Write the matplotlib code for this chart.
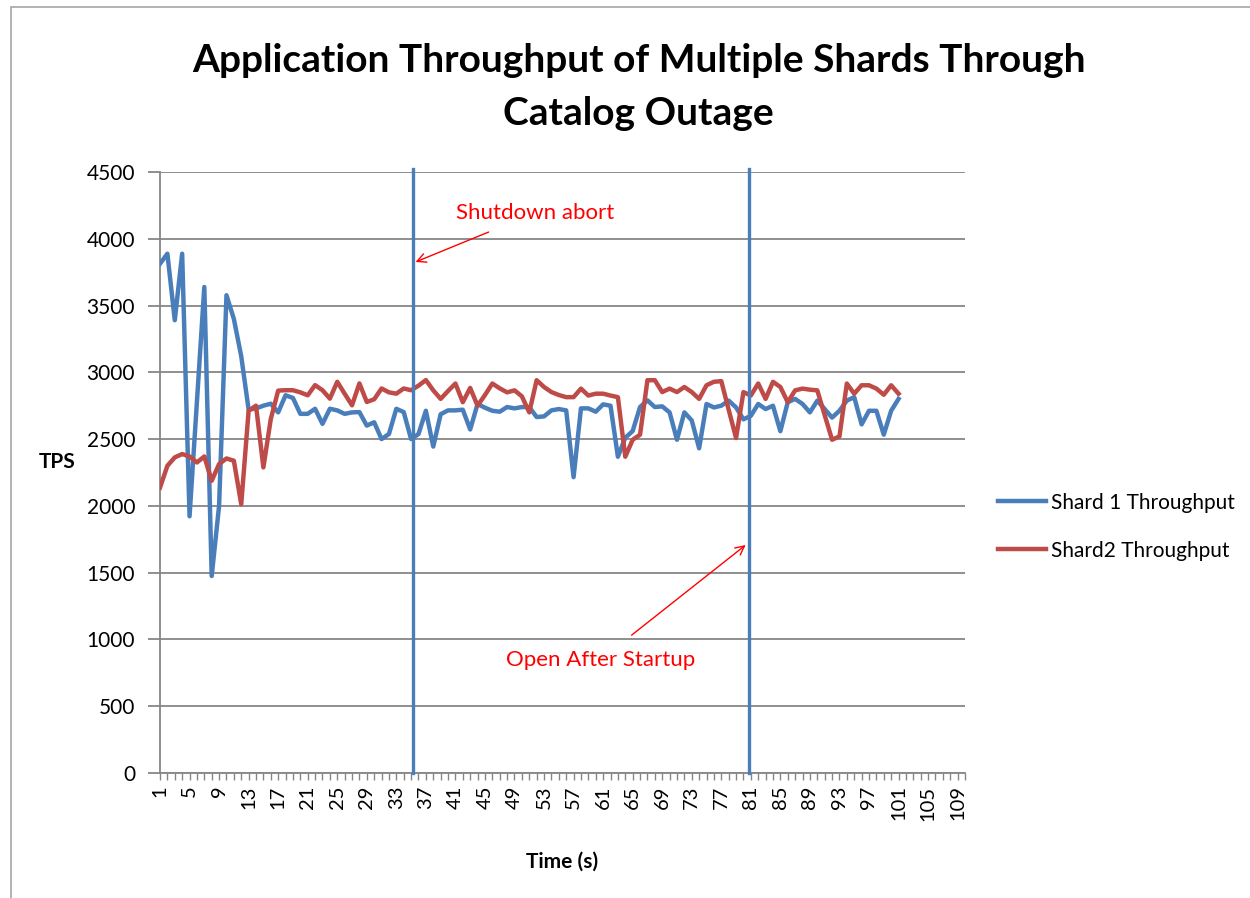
import numpy as np
import matplotlib
matplotlib.use('Agg')
import matplotlib.pyplot as plt
from matplotlib.patches import Rectangle

plt.rcParams['font.family'] = ['Lato', 'DejaVu Sans']

# ==== data ====
shard1 = [3813, 3888, 3390, 3888, 1922, 2780, 3639, 1475, 2000, 3577,
          3400, 3120, 2720, 2730, 2750, 2765, 2700, 2828, 2808, 2689,
          2689, 2727, 2614, 2727, 2715, 2689, 2700, 2702, 2601, 2626,
          2500, 2538, 2727, 2702, 2500, 2538, 2712, 2444, 2686, 2715,
          2715, 2720, 2572, 2763, 2735, 2712, 2705, 2740, 2730, 2740,
          2740, 2665, 2670, 2715, 2725, 2715, 2215, 2730, 2730, 2705,
          2760, 2750, 2368, 2510, 2560, 2740, 2790, 2740, 2745, 2700,
          2495, 2700, 2640, 2431, 2763, 2737, 2750, 2788, 2737, 2648,
          2674, 2763, 2725, 2750, 2559, 2776, 2801, 2763, 2700, 2788,
          2725, 2661, 2712, 2788, 2814, 2610, 2712, 2712, 2533, 2712,
          2801]
shard2 = [2137, 2300, 2363, 2388, 2370, 2325, 2370, 2188, 2313, 2355,
          2338, 2013, 2713, 2750, 2288, 2650, 2863, 2866, 2866, 2850,
          2828, 2904, 2866, 2803, 2929, 2840, 2753, 2917, 2778, 2798,
          2879, 2850, 2840, 2879, 2866, 2900, 2942, 2865, 2801, 2860,
          2916, 2776, 2883, 2750, 2830, 2916, 2880, 2850, 2865, 2820,
          2700, 2941, 2890, 2852, 2830, 2814, 2814, 2878, 2826, 2840,
          2840, 2826, 2814, 2368, 2495, 2533, 2941, 2941, 2852, 2878,
          2852, 2890, 2852, 2801, 2903, 2929, 2934, 2720, 2508, 2852,
          2826, 2916, 2801, 2929, 2890, 2776, 2865, 2878, 2870, 2865,
          2680, 2495, 2520, 2916, 2840, 2903, 2903, 2878, 2832, 2903,
          2840]
ncat = 110                     # categories on the time axis
events = [35.2, 80.8]          # shutdown abort / open after startup

t = np.arange(1, len(shard1) + 1)

# ==== plotting ====
fig = plt.figure(figsize=(12.5, 8.98), dpi=100)
ax = fig.add_axes([0.128, 0.1392, 0.644, 0.6693])

blue = '#4a7ebb'
red = '#be4b48'
grid = '#868686'

ax.plot(t, shard1, color=blue, lw=3.2, label='Shard 1 Throughput',
        solid_joinstyle='round', zorder=3)
ax.plot(t, shard2, color=red, lw=3.2, label='Shard2 Throughput',
        solid_joinstyle='round', zorder=3)
for ev in events:
    ax.plot([ev, ev], [0, 4520], color=blue, lw=2.4, clip_on=False, zorder=4)

ax.set_xlim(1, ncat)
ax.set_ylim(0, 4500)
ax.set_yticks(np.arange(0, 4501, 500))
ax.set_xticks(np.arange(1, ncat + 1))
ax.set_xticklabels([str(i) if (i - 1) % 4 == 0 else '' for i in range(1, ncat + 1)],
                   rotation=90)
ax.yaxis.grid(True, color=grid, lw=1.3)
ax.set_axisbelow(True)
for s in ['top', 'right']:
    ax.spines[s].set_visible(False)
for s in ['left', 'bottom']:
    ax.spines[s].set_color(grid)
    ax.spines[s].set_linewidth(1.3)
ax.tick_params(axis='y', length=9, color=grid, width=1.3, labelsize=15, pad=9)
ax.tick_params(axis='x', length=5, color=grid, width=1, labelsize=14.5, pad=4)

ax.set_xlabel('Time (s)', fontsize=15, fontweight='bold', labelpad=22)
ax.set_ylabel('TPS', fontsize=15, fontweight='bold', rotation=0, labelpad=30)
ax.yaxis.set_label_coords(-0.128, 0.5)

fig.text(0.511, 0.952, 'Application Throughput of Multiple Shards Through\nCatalog Outage',
         ha='center', va='top', fontsize=28, fontweight='bold', linespacing=1.62)

ax.annotate('Shutdown abort', xy=(35.6, 3826), xytext=(51.8, 4193),
            color='red', fontsize=16, ha='center', va='center',
            arrowprops=dict(arrowstyle='->', color='red', lw=1,
                            shrinkA=12, shrinkB=0))
ax.annotate('Open After Startup', xy=(80.3, 1707), xytext=(60.6, 846),
            color='red', fontsize=16, ha='center', va='center',
            arrowprops=dict(arrowstyle='->', color='red', lw=1,
                            shrinkA=14, shrinkB=0))

leg = ax.legend(loc='center left', bbox_to_anchor=(1.018, 0.41), frameon=False,
                fontsize=15, handlelength=2.3, handletextpad=0.25, labelspacing=1.35)

fig.add_artist(Rectangle((0.009, -0.05), 1.1, 1.042, transform=fig.transFigure,
                         fill=False, ec='#a6a6a6', lw=1.2))

fig.savefig('out.png', dpi=100)
